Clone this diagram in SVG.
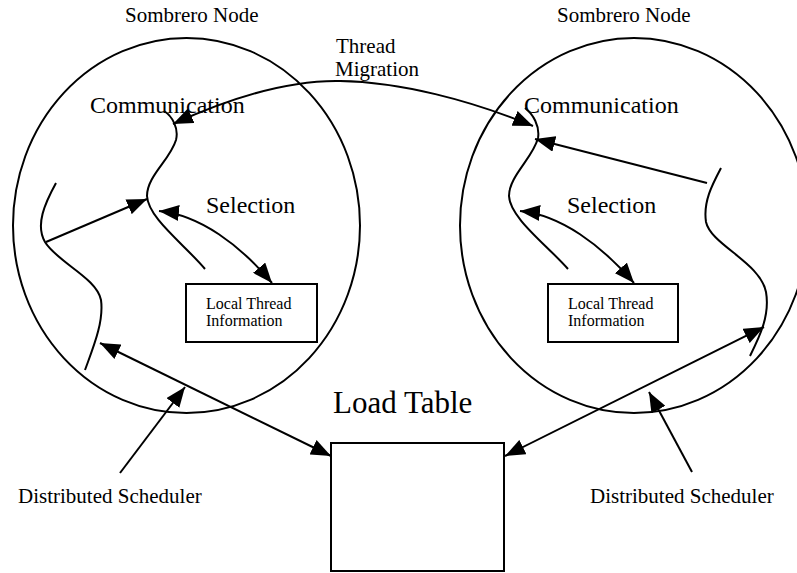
<svg xmlns="http://www.w3.org/2000/svg" width="797" height="573" viewBox="0 0 797 573" font-family="'Liberation Serif', 'Times New Roman', Times, serif">
  <defs>
    <marker id="ah" viewBox="0 0 20 16" refX="20" refY="8" markerWidth="20" markerHeight="16" markerUnits="userSpaceOnUse" orient="auto-start-reverse">
      <path d="M0,0 L20,8 L0,16 z" fill="#000"/>
    </marker>
  </defs>
  <style>
    .ln { fill: none; stroke: #000; stroke-width: 2; }
    .box { fill: #fff; stroke: #000; stroke-width: 2; }
    text { font-family: 'Liberation Serif', 'Times New Roman', Times, serif; fill: #000; }
    .t21 { font-size: 21px; }
    .t24 { font-size: 24px; }
    .t16 { font-size: 16px; }
    .t31 { font-size: 31px; }
    .arr { marker-end: url(#ah); }
    .arr2 { marker-start: url(#ah); marker-end: url(#ah); }
  </style>
  <rect width="797" height="573" fill="#fff"/>

  <!-- left sombrero node -->
  <g id="node-left">
    <ellipse class="ln" cx="186.5" cy="225.5" rx="173.5" ry="187.5"/>
    <text class="t21" x="125" y="22">Sombrero Node</text>
    <text class="t24" x="90" y="113">Communication</text>
    <text class="t24" x="206" y="213">Selection</text>
    <!-- communication thread -->
    <path class="ln" d="M164,111 C172,116 179,128 176,140 C170,160 147,176 147,196 C148,218 185,245 205,269"/>
    <!-- scheduler thread -->
    <path class="ln" d="M56,183 C45,203 35,225 45,242 C57,262 97,278 101,300 C104,322 93,348 85,370"/>
  </g>
  <g id="lti-left">
    <rect class="box" x="186" y="284" width="131" height="58"/>
    <text class="t16" x="206" y="309">Local Thread</text>
    <text class="t16" x="206" y="326">Information</text>
  </g>

  <!-- right sombrero node -->
  <g id="node-right">
    <ellipse class="ln" cx="634" cy="225.5" rx="174" ry="187.5"/>
    <text class="t21" x="557" y="22">Sombrero Node</text>
    <text class="t24" x="524" y="113">Communication</text>
    <text class="t24" x="567" y="213">Selection</text>
    <!-- communication thread -->
    <path class="ln" d="M525,108 C533,114 540,126 538,138 C533,158 509,176 509,196 C510,218 547,245 568,269"/>
    <!-- scheduler thread -->
    <path class="ln" d="M721,168 C712,185 703,202 706,222 C711,245 760,262 766,292 C770,315 760,336 750,356"/>
  </g>
  <g id="lti-right">
    <rect class="box" x="548" y="284" width="130" height="58"/>
    <text class="t16" x="568" y="309">Local Thread</text>
    <text class="t16" x="568" y="326">Information</text>
  </g>

  <!-- shared load table -->
  <g id="load-table">
    <text class="t31" x="333" y="413">Load Table</text>
    <rect class="box" x="331" y="443" width="173" height="128"/>
  </g>

  <g id="labels">
    <text class="t21" x="336" y="53">Thread</text>
    <text class="t21" x="335" y="76">Migration</text>
    <text class="t21" x="18" y="503">Distributed Scheduler</text>
    <text class="t21" x="590" y="503">Distributed Scheduler</text>
  </g>

  <g id="connectors">
    <!-- thread migration between nodes -->
    <path class="ln arr2" d="M173,124 C230,98 290,80 340,81 C400,82 470,100 533,126"/>
    <!-- scheduler to communication -->
    <path class="ln arr" d="M46,242 L147,199"/>
    <path class="ln arr" d="M707,183 L535,139"/>
    <!-- selection to local thread information -->
    <path class="ln arr2" d="M159,211 C200,215 240,245 272,283"/>
    <path class="ln arr2" d="M520,211 C561,215 601,245 634,283"/>
    <!-- schedulers to load table -->
    <path class="ln arr2" d="M100,343 L331,456"/>
    <path class="ln arr2" d="M505,456 L764,327"/>
    <!-- label pointers -->
    <path class="ln arr" d="M120,473 L185,387"/>
    <path class="ln arr" d="M692,472 L649,392"/>
  </g>
</svg>
